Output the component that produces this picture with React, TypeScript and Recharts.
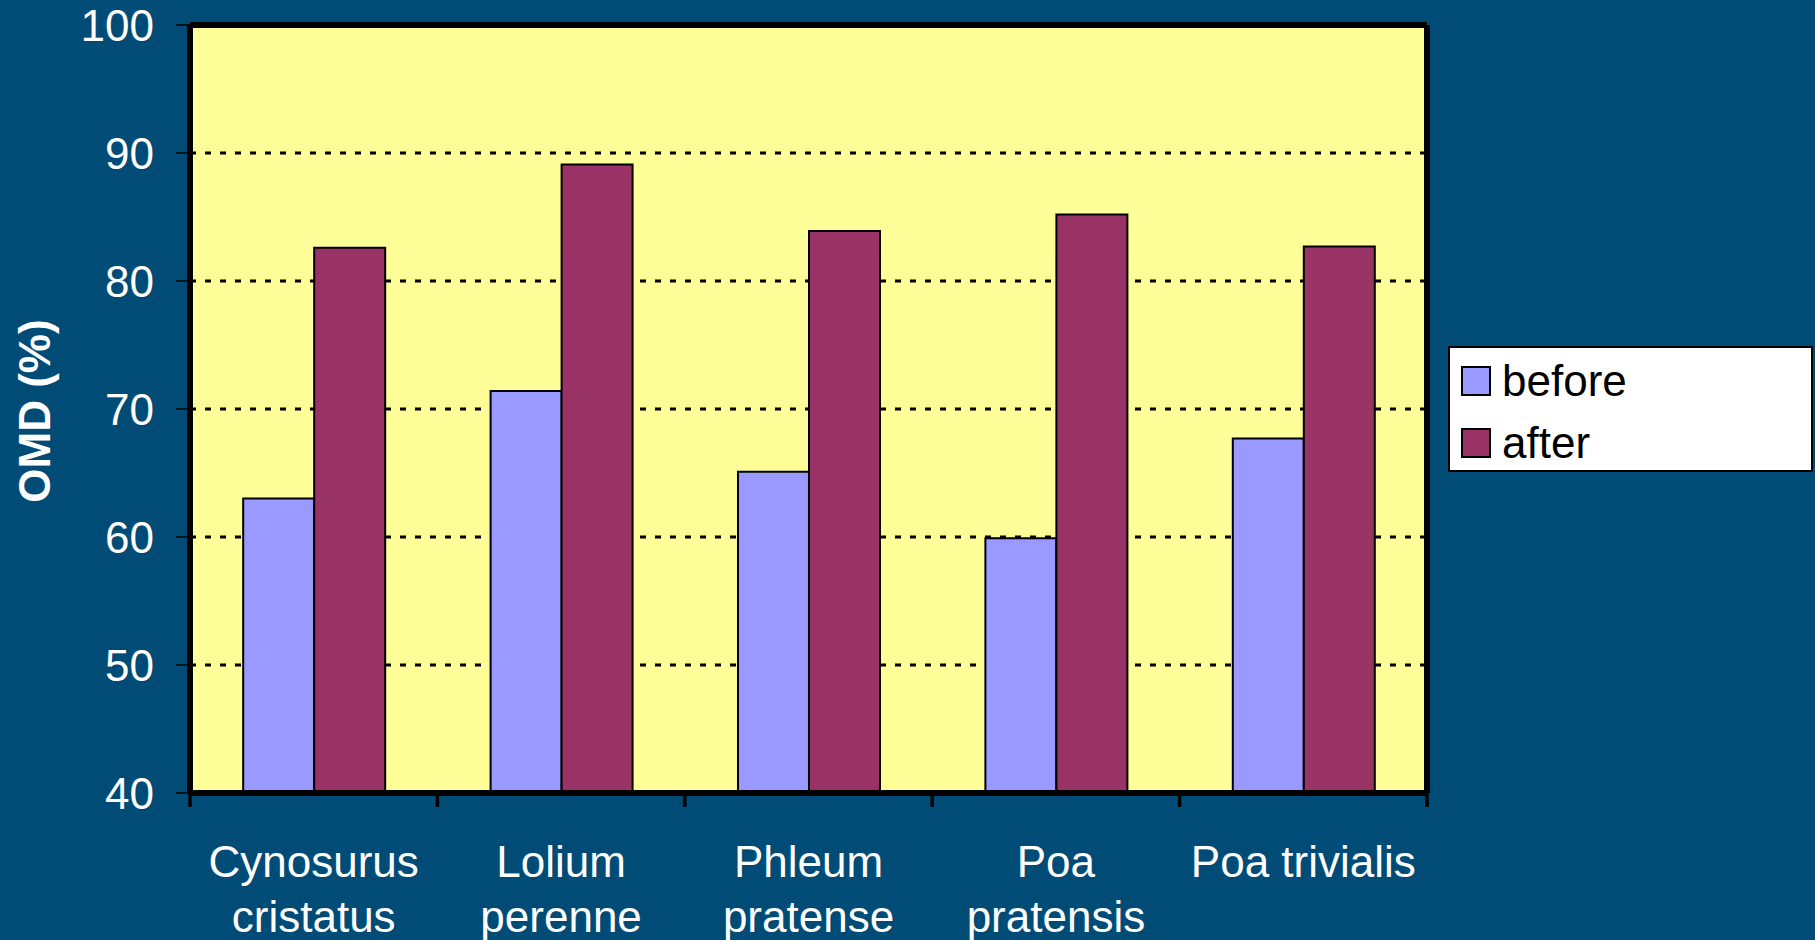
import React from "react";
import { BarChart, Bar, XAxis, YAxis, CartesianGrid, Legend } from "recharts";

// OMD of grass species, before vs after
const species = ["Cynosurus cristatus", "Lolium perenne", "Phleum pratense", "Poa pratensis", "Poa trivialis"];
const beforeValues = [63.0, 71.4, 65.1, 59.9, 67.7];
const afterValues = [82.6, 89.1, 83.9, 85.2, 82.7];
const yTicks = [40, 50, 60, 70, 80, 90, 100];
const seriesNames = ["before", "after"];

const data = species.map((name, i) => ({ name, before: beforeValues[i], after: afterValues[i] }));

const FONT = '"Liberation Sans", Arial, sans-serif';
const BG = "#004C77";
const BORDER = { stroke: "#000", strokeWidth: 6 };

let measureCtx: CanvasRenderingContext2D | null = null;
const measure = (s: string) => {
	if (!measureCtx) {
		measureCtx = document.createElement("canvas").getContext("2d");
		if (measureCtx) measureCtx.font = `44px ${FONT}`;
	}
	return measureCtx ? measureCtx.measureText(s).width : s.length * 22;
};

// greedy word wrap into the category band
const wrap = (label: string, maxWidth: number) => {
	const words = String(label).split(" ");
	const lines: string[] = [];
	let cur = "";
	words.forEach((w) => {
		const next = cur ? cur + " " + w : w;
		if (cur && measure(next) > maxWidth) {
			lines.push(cur);
			cur = w;
		} else {
			cur = next;
		}
	});
	if (cur) lines.push(cur);
	return lines;
};

const SpeciesTick = (props: any) => {
	const { x, y, payload, index, visibleTicksCount } = props;
	const half = payload?.offset ?? 123.7;
	const top = y - 14;
	const lines = wrap(payload.value, half * 2 - 4);
	return (
		<g>
			<line x1={x - half} x2={x - half} y1={top} y2={y} stroke="#000" strokeWidth={3.5} />
			{index === visibleTicksCount - 1 && (
				<line x1={x + half} x2={x + half} y1={top} y2={y} stroke="#000" strokeWidth={3.5} />
			)}
			<text x={x} y={y + 70} textAnchor="middle" fill="#fff" fontSize={44} fontFamily={FONT}>
				{lines.map((l, i) => (
					<tspan key={i} x={x} dy={i === 0 ? 0 : 55}>
						{l}
					</tspan>
				))}
			</text>
		</g>
	);
};

const YLabel = (props: any) => {
	const vb = props.viewBox || { x: 0, y: 25, width: 190, height: 768 };
	const cx = vb.x + 50;
	const cy = vb.y + vb.height / 2 + 2;
	return (
		<text
			x={cx}
			y={cy}
			transform={`rotate(-90, ${cx}, ${cy})`}
			textAnchor="middle"
			fill="#fff"
			fontSize={44}
			fontWeight="bold"
			fontFamily={FONT}
		>
			OMD (%)
		</text>
	);
};

const LegendBox = (props: any) => {
	const items = [...(props.payload || [])].sort(
		(a: any, b: any) => seriesNames.indexOf(a.value) - seriesNames.indexOf(b.value)
	);
	return (
		<div
			style={{
				width: 365,
				height: 126,
				boxSizing: "border-box",
				background: "#fff",
				border: "2px solid #000",
				paddingTop: 2,
				fontFamily: FONT,
				fontSize: 44,
				color: "#000",
			}}
		>
			{items.map((item: any) => (
				<div key={item.value} style={{ display: "flex", alignItems: "center", height: 62 }}>
					<div
						style={{
							width: 30,
							height: 30,
							boxSizing: "border-box",
							marginLeft: 11,
							marginRight: 11,
							background: item.color,
							border: "2px solid #000",
						}}
					/>
					<span style={{ lineHeight: "62px" }}>{item.value}</span>
				</div>
			))}
		</div>
	);
};

export default function App() {
	return (
		<div style={{ width: 1815, height: 940, background: BG, fontFamily: FONT }}>
			<style>{`body{margin:0;}`}</style>
			<BarChart
				width={1815}
				height={940}
				data={data}
				margin={{ top: 24, right: 387, bottom: 0, left: 0 }}
				barCategoryGap="21.5%"
				barGap={0}
			>
				<CartesianGrid
					vertical={false}
					fill="#FFFF99"
					fillOpacity={1}
					stroke="#000"
					strokeWidth={3}
					strokeDasharray="6 9"
				/>
				<XAxis
					dataKey="name"
					height={147}
					tickSize={14}
					tickMargin={0}
					tickLine={false}
					axisLine={BORDER}
					tick={<SpeciesTick />}
					interval={0}
				/>
				<XAxis
					xAxisId="top"
					orientation="top"
					dataKey="name"
					height={1}
					tick={false}
					tickLine={false}
					axisLine={BORDER}
				/>
				<YAxis
					width={190}
					domain={[40, 100]}
					ticks={yTicks}
					interval={0}
					allowDataOverflow
					tickSize={14}
					tickMargin={22}
					tickLine={{ stroke: "#000", strokeWidth: 1.5 }}
					axisLine={BORDER}
					tick={{ fill: "#fff", fontSize: 44, fontFamily: FONT }}
					label={<YLabel />}
				/>
				<YAxis
					yAxisId="right"
					orientation="right"
					width={1}
					domain={[40, 100]}
					tick={false}
					tickLine={false}
					axisLine={BORDER}
				/>
				<Legend
					layout="horizontal"
					verticalAlign="middle"
					align="center"
					content={<LegendBox />}
					wrapperStyle={{ left: 1448, top: 346, width: 365, height: 126 }}
				/>
				<Bar dataKey="before" name="before" fill="#9999FF" stroke="#000" strokeWidth={2} isAnimationActive={false} />
				<Bar dataKey="after" name="after" fill="#993366" stroke="#000" strokeWidth={2} isAnimationActive={false} />
			</BarChart>
		</div>
	);
}
